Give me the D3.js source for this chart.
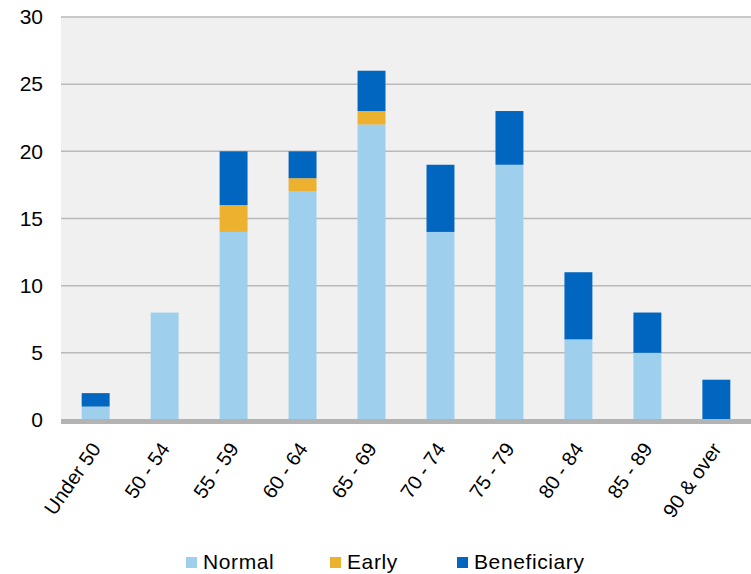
<!DOCTYPE html>
<html>
<head>
<meta charset="utf-8">
<script src="https://cdn.jsdelivr.net/npm/d3@7"></script>
<style>
  body { margin: 0; background: #fff; }
  text { font-family: "Liberation Sans", Arial, sans-serif; fill: #000; }
</style>
</head>
<body>
<div id="chart"></div>
<script>
// age bands and member counts
const ageBands = ["Under 50", "50 - 54", "55 - 59", "60 - 64", "65 - 69",
                  "70 - 74", "75 - 79", "80 - 84", "85 - 89", "90 & over"];
const normal      = [1, 8, 14, 17, 22, 14, 19, 6, 5, 0];
const early       = [0, 0, 2, 1, 1, 0, 0, 0, 0, 0];
const beneficiary = [1, 0, 4, 2, 3, 5, 4, 5, 3, 3];
const seriesNames = ["Normal", "Early", "Beneficiary"];
const yTicks = [0, 5, 10, 15, 20, 25, 30];

const colors = {Normal: "#9ecfec", Early: "#ecb12f", Beneficiary: "#0066bf"};

const width = 751, height = 574;
const margin = {top: 17, right: 0, bottom: 154, left: 61};
const innerW = width - margin.left - margin.right;
const innerH = height - margin.top - margin.bottom;

const svg = d3.select("#chart").append("svg")
    .attr("width", width)
    .attr("height", height);

const g = svg.append("g")
    .attr("transform", `translate(${margin.left},${margin.top})`);

const x = d3.scaleBand()
    .domain(ageBands)
    .range([0, innerW])
    .paddingInner(0.595)
    .paddingOuter(0.3);

const y = d3.scaleLinear()
    .domain([0, 30])
    .range([innerH, 0]);

// plot background
g.append("rect")
    .attr("width", innerW)
    .attr("height", innerH)
    .attr("fill", "#f0f0f0");

// gridlines
g.selectAll(".grid")
    .data(yTicks.filter(d => d > 0))
    .enter()
    .append("line")
    .attr("x1", 0)
    .attr("x2", innerW)
    .attr("y1", d => y(d))
    .attr("y2", d => y(d))
    .attr("stroke", "#b9b9b9")
    .attr("stroke-width", 1.5);

// stacked bars
const rows = ageBands.map((band, i) => ({
    band: band,
    Normal: normal[i],
    Early: early[i],
    Beneficiary: beneficiary[i]
}));

const stacked = d3.stack().keys(seriesNames)(rows);

g.selectAll(".layer")
    .data(stacked)
    .enter()
    .append("g")
    .attr("fill", d => colors[d.key])
    .selectAll("rect")
    .data(d => d.filter(s => s[1] > s[0]))
    .enter()
    .append("rect")
    .attr("x", d => x(d.data.band))
    .attr("width", x.bandwidth())
    .attr("y", d => y(d[1]))
    .attr("height", d => y(d[0]) - y(d[1]));

// baseline
g.append("line")
    .attr("x1", 0)
    .attr("x2", innerW)
    .attr("y1", innerH + 1.5)
    .attr("y2", innerH + 1.5)
    .attr("stroke", "#b3b3b3")
    .attr("stroke-width", 5);

// y axis
const yAxis = g.append("g")
    .call(d3.axisLeft(y).tickValues(yTicks).tickSize(0).tickPadding(18));
yAxis.select(".domain").remove();
yAxis.selectAll("text")
    .style("font-size", "21px")
    .attr("font-family", null);

// x axis
const xAxis = g.append("g")
    .attr("transform", `translate(0,${innerH})`)
    .call(d3.axisBottom(x).tickSize(0));
xAxis.select(".domain").remove();
xAxis.selectAll("text")
    .style("font-size", "20px")
    .attr("font-family", null)
    .attr("text-anchor", "end")
    .attr("dy", null)
    .attr("y", 0)
    .attr("transform", "translate(6,29) rotate(-55)");

// legend
const legendX = [186, 330, 457];
const legend = svg.append("g")
    .attr("transform", "translate(0,557)");
const items = legend.selectAll(".item")
    .data(seriesNames)
    .enter()
    .append("g")
    .attr("transform", (d, i) => `translate(${legendX[i]},0)`);
items.append("rect")
    .attr("width", 11)
    .attr("height", 11)
    .attr("fill", d => colors[d]);
items.append("text")
    .attr("x", 17)
    .attr("y", 12)
    .style("font-size", "21px")
    .style("letter-spacing", "0.6px")
    .text(d => d);
</script>
</body>
</html>
